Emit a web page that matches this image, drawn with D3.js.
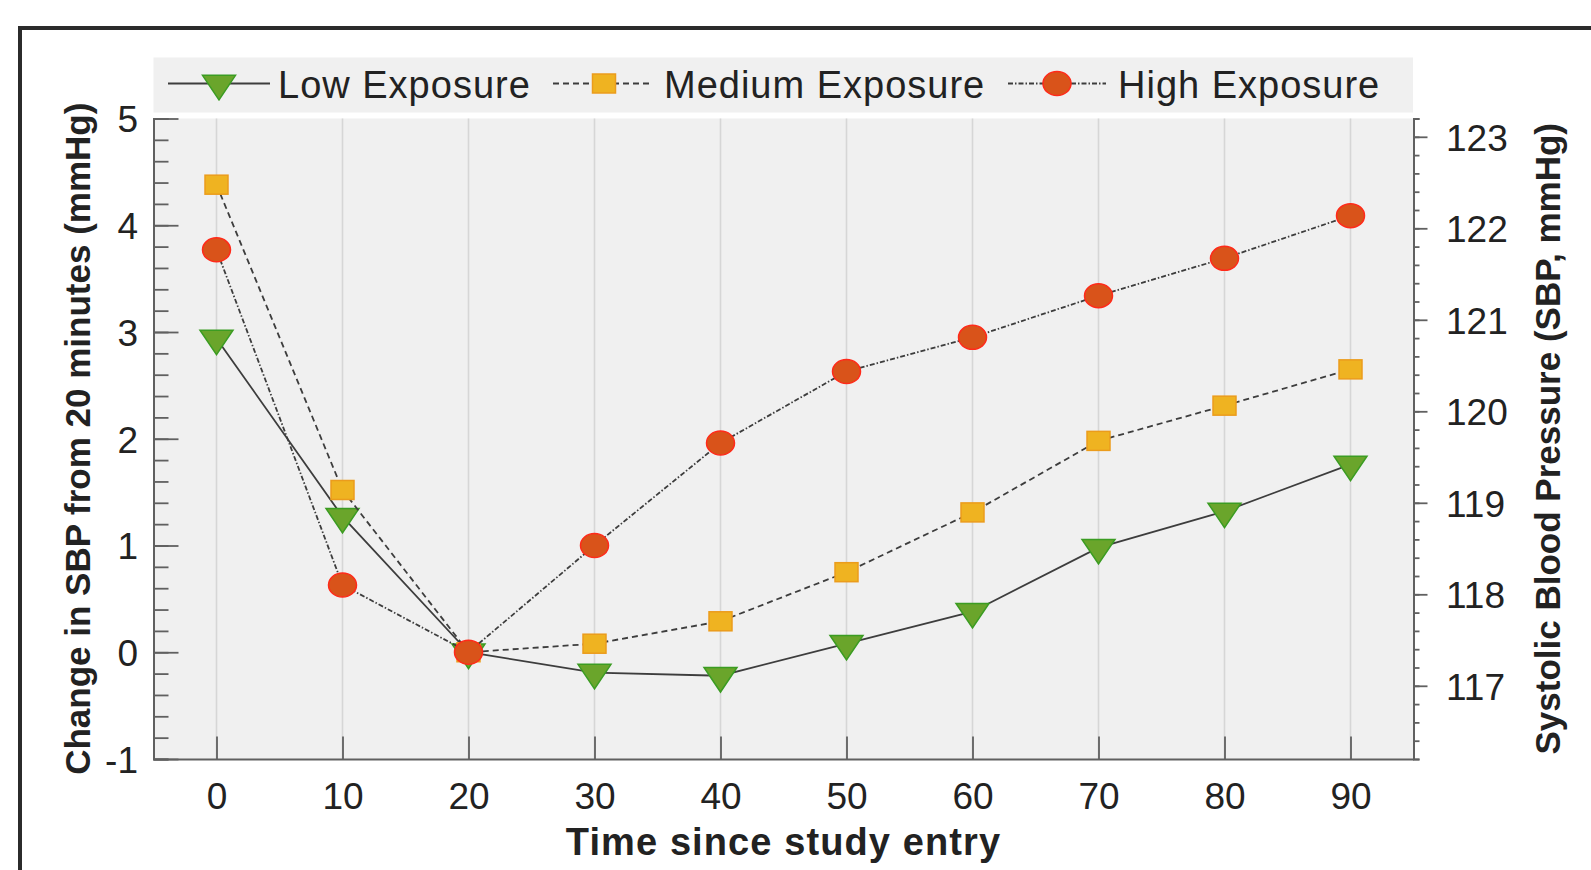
<!DOCTYPE html>
<html>
<head>
<meta charset="utf-8">
<script src="https://cdn.jsdelivr.net/npm/d3@7"></script>
<style>
  html, body { margin: 0; padding: 0; background: #fff; }
  #chart { width: 1591px; height: 870px; }
  text { font-family: "Liberation Sans", Arial, Helvetica, sans-serif; fill: #222; }
</style>
</head>
<body>
<div id="chart"></div>
<script>
// values
const times = [0, 10, 20, 30, 40, 50, 60, 70, 80, 90];
const lowExposure = [2.94, 1.27, 0, -0.19, -0.22, 0.08, 0.38, 0.98, 1.32, 1.76];
const mediumExposure = [4.38, 1.52, 0, 0.08, 0.29, 0.75, 1.31, 1.98, 2.31, 2.65];
const highExposure = [3.77, 0.63, 0, 1.0, 1.96, 2.63, 2.95, 3.34, 3.69, 4.09];
const seriesNames = ["Low Exposure", "Medium Exposure", "High Exposure"];

const xTicks = [0, 10, 20, 30, 40, 50, 60, 70, 80, 90];
const leftTicks = [-1, 0, 1, 2, 3, 4, 5];
const rightTicks = [117, 118, 119, 120, 121, 122, 123];
const xDomain = [-5, 95];
const leftDomain = [-1, 5];
const rightDomain = [116.2, 123.2];

const xLabel = "Time since study entry";
const leftLabel = "Change in SBP from 20 minutes (mmHg)";
const rightLabel = "Systolic Blood Pressure (SBP, mmHg)";

class SbpChart {
  constructor(parentElement) {
    this.parentElement = parentElement;
    this.initVis();
  }

  initVis() {
    let vis = this;

    vis.W = 1591;
    vis.H = 870;
    vis.plot = { left: 153.5, right: 1413.5, top: 118.5, bottom: 759 };

    vis.svg = d3.select("#" + vis.parentElement)
      .append("svg")
      .attr("width", vis.W)
      .attr("height", vis.H);

    // outer frame (runs off the right/bottom edge)
    vis.svg.append("rect")
      .attr("x", 20).attr("y", 28)
      .attr("width", 1700).attr("height", 1000)
      .attr("fill", "none")
      .attr("stroke", "#2b2b2b")
      .attr("stroke-width", 4);

    vis.x = d3.scaleLinear().domain(xDomain).range([vis.plot.left, vis.plot.right]);
    vis.y = d3.scaleLinear().domain(leftDomain).range([vis.plot.bottom, vis.plot.top]);
    vis.y2 = d3.scaleLinear().domain(rightDomain).range([vis.plot.bottom, vis.plot.top]);

    // plot background
    vis.svg.append("rect")
      .attr("x", vis.plot.left).attr("y", vis.plot.top)
      .attr("width", vis.plot.right - vis.plot.left)
      .attr("height", vis.plot.bottom - vis.plot.top)
      .attr("fill", "#f0f0f0");

    // vertical grid
    vis.svg.append("g")
      .selectAll("line")
      .data(xTicks)
      .enter().append("line")
      .attr("x1", d => vis.x(d)).attr("x2", d => vis.x(d))
      .attr("y1", vis.plot.top).attr("y2", vis.plot.bottom)
      .attr("stroke", "#d6d6d6")
      .attr("stroke-width", 1.6);

    vis.drawAxes();
    vis.drawSeries();
    vis.drawLegend();
  }

  drawAxes() {
    let vis = this;
    const axisColor = "#606060";
    const minorLeft = d3.range(leftDomain[0], leftDomain[1] + 0.001, 0.2);
    const minorRight = d3.range(116.2, 123.2 + 0.001, 0.2);

    const style = (g) => {
      g.selectAll("path").attr("stroke", axisColor).attr("stroke-width", 2);
      g.selectAll("line").attr("stroke", axisColor).attr("stroke-width", 1.8);
      g.selectAll("text")
        .style("font-size", "37px")
        .attr("fill", "#262626");
    };

    // left axis, ticks inside
    vis.svg.append("g")
      .attr("transform", `translate(${vis.plot.left},0)`)
      .call(d3.axisLeft(vis.y).tickValues(minorLeft).tickSize(-15).tickFormat(""))
      .call(style);
    vis.svg.append("g")
      .attr("transform", `translate(${vis.plot.left},0)`)
      .call(d3.axisLeft(vis.y).tickValues(leftTicks).tickSizeInner(-25).tickSizeOuter(0)
        .tickPadding(15.5).tickFormat(d => String(d)))
      .call(style)
      .call(g => g.selectAll("text").attr("dy", "0.36em"));

    // bottom axis
    vis.svg.append("g")
      .attr("transform", `translate(0,${vis.plot.bottom})`)
      .call(d3.axisBottom(vis.x).tickValues(xTicks).tickSizeInner(-22.5).tickSizeOuter(0)
        .tickPadding(23).tickFormat(d => String(d)))
      .call(style)
      .call(g => g.selectAll("text").attr("dy", "0.72em"));

    // right axis, ticks outside
    vis.svg.append("g")
      .attr("transform", `translate(${vis.plot.right},0)`)
      .call(d3.axisRight(vis.y2).tickValues(minorRight).tickSize(6).tickFormat(""))
      .call(style);
    vis.svg.append("g")
      .attr("transform", `translate(${vis.plot.right},0)`)
      .call(d3.axisRight(vis.y2).tickValues(rightTicks).tickSizeInner(14).tickSizeOuter(0)
        .tickPadding(18.5).tickFormat(d => String(d)))
      .call(style)
      .call(g => g.selectAll("text").attr("dy", "0.36em"));

    // axis titles
    vis.svg.append("text")
      .attr("x", (vis.plot.left + vis.plot.right) / 2)
      .attr("y", 855)
      .attr("text-anchor", "middle")
      .style("font-size", "38px")
      .style("font-weight", "bold")
      .style("letter-spacing", "1.1px")
      .text(xLabel);

    vis.svg.append("text")
      .attr("transform", `translate(90,${(vis.plot.top + vis.plot.bottom) / 2}) rotate(-90)`)
      .attr("text-anchor", "middle")
      .style("font-size", "35px")
      .style("font-weight", "bold")
      .text(leftLabel);

    vis.svg.append("text")
      .attr("transform", `translate(1560,${(vis.plot.top + vis.plot.bottom) / 2}) rotate(-90)`)
      .attr("text-anchor", "middle")
      .style("font-size", "35px")
      .style("font-weight", "bold")
      .text(rightLabel);
  }

  styles() {
    return [
      { values: lowExposure, dash: null, marker: "triangle", fill: "#6aa52b", edge: "#3b9c22" },
      { values: mediumExposure, dash: "6,4", marker: "square", fill: "#efb321", edge: "#eb9c1c" },
      { values: highExposure, dash: "5,2,1.5,2", marker: "circle", fill: "#d9531a", edge: "#ff2a1a" }
    ];
  }

  addMarker(sel, kind, fill, edge) {
    if (kind === "triangle") {
      sel.append("path").attr("d", "M-16.5,-8.2L16.5,-8.2L0,16.3Z");
    } else if (kind === "square") {
      sel.append("rect").attr("x", -11.5).attr("y", -9.5).attr("width", 23).attr("height", 19);
    } else {
      sel.append("ellipse").attr("rx", 14).attr("ry", 12);
    }
    sel.selectAll("path, rect, ellipse")
      .attr("fill", fill)
      .attr("stroke", edge)
      .attr("stroke-width", 1.5);
  }

  drawSeries() {
    let vis = this;
    const line = d3.line()
      .x((d, i) => vis.x(times[i]))
      .y(d => vis.y(d));

    vis.styles().forEach(s => {
      const g = vis.svg.append("g");
      g.append("path")
        .datum(s.values)
        .attr("d", line)
        .attr("fill", "none")
        .attr("stroke", "#3d3d3d")
        .attr("stroke-width", 1.8)
        .attr("stroke-dasharray", s.dash);

      g.selectAll(".pt")
        .data(s.values)
        .enter().append("g")
        .attr("class", "pt")
        .attr("transform", (d, i) => `translate(${vis.x(times[i])},${vis.y(d)})`)
        .each(function () { vis.addMarker(d3.select(this), s.marker, s.fill, s.edge); });
    });
  }

  drawLegend() {
    let vis = this;
    const lg = vis.svg.append("g");
    lg.append("rect")
      .attr("x", vis.plot.left).attr("y", 57.5)
      .attr("width", 1413 - vis.plot.left).attr("height", 55)
      .attr("fill", "#f0f0f0");

    const items = [
      { x0: 168, x1: 270, mx: 219, tx: 278 },
      { x0: 553, x1: 652, mx: 604, tx: 664 },
      { x0: 1008, x1: 1106, mx: 1057, tx: 1118 }
    ];
    const st = vis.styles();
    items.forEach((it, i) => {
      lg.append("line")
        .attr("x1", it.x0).attr("x2", it.x1)
        .attr("y1", 83.5).attr("y2", 83.5)
        .attr("stroke", "#3d3d3d")
        .attr("stroke-width", 1.8)
        .attr("stroke-dasharray", st[i].dash);
      const m = lg.append("g").attr("transform", `translate(${it.mx},83.5)`);
      vis.addMarker(m, st[i].marker, st[i].fill, st[i].edge);
      lg.append("text")
        .attr("x", it.tx).attr("y", 98)
        .style("font-size", "38px")
        .style("letter-spacing", "1px")
        .text(seriesNames[i]);
    });
  }
}

new SbpChart("chart");
</script>
</body>
</html>
